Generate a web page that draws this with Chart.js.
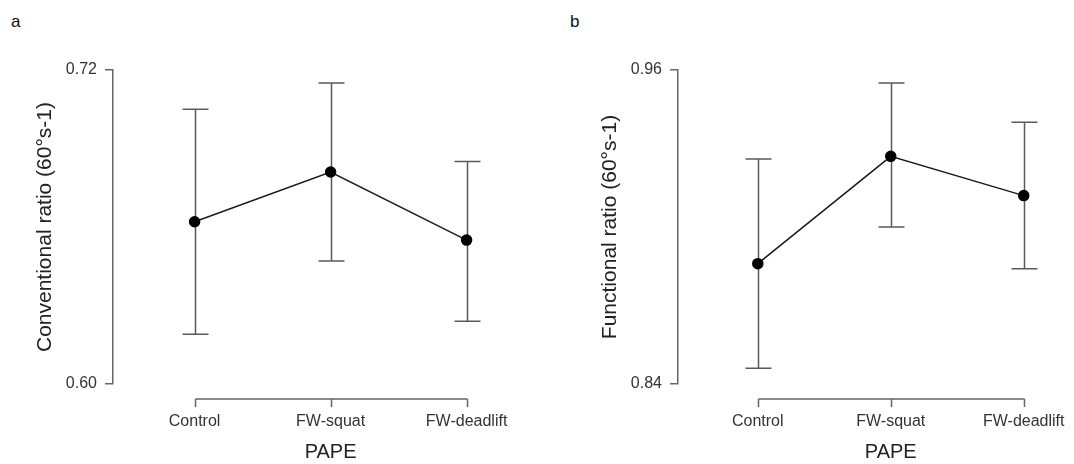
<!DOCTYPE html>
<html lang="en">
<head>
<meta charset="UTF-8">
<title>PAPE ratios</title>
<script src="https://cdn.jsdelivr.net/npm/chart.js"></script>
<style>
  html, body { margin: 0; padding: 0; background: #fff; overflow: hidden; }
  body { width: 1074px; height: 464px; position: relative; overflow: hidden; font-family: "Liberation Sans", Arial, sans-serif; }
  .panel { position: absolute; top: 0; height: 464px; }
  .tag { position: absolute; top: 13px; font-size: 17px; line-height: 17px; color: #111; }
</style>
</head>
<body>
<div class="tag" style="left:11px">a</div>
<div class="tag" style="left:570px">b</div>
<div class="panel" style="left:0; width:560px"><canvas id="chartA"></canvas></div>
<div class="panel" style="left:565px; width:545px"><canvas id="chartB"></canvas></div>

<script>
// categories on the x axis
const categories = ['Control', 'FW-squat', 'FW-deadlift'];

// panel a: conventional ratio, mean with lower/upper error bar ends
const convMean = [0.662, 0.681, 0.655];
const convLow = [0.619, 0.647, 0.624];
const convHigh = [0.705, 0.715, 0.685];
const convTicks = [0.60, 0.72];

// panel b: functional ratio
const funcMean = [0.886, 0.927, 0.912];
const funcLow = [0.846, 0.900, 0.884];
const funcHigh = [0.926, 0.955, 0.940];
const funcTicks = [0.84, 0.96];

const FONT = '"Liberation Sans", Arial, sans-serif';

// vertical error bars with caps, drawn under the line
const errorBars = {
  id: 'errorBars',
  beforeDatasetsDraw(chart, args, opts) {
    const { ctx, scales: { x, y } } = chart;
    ctx.save();
    ctx.strokeStyle = '#5a5a5a';
    ctx.lineWidth = 1.5;
    opts.low.forEach((lo, i) => {
      const px = Math.round(x.getPixelForValue(i + 1)) + 0.5;
      const yl = y.getPixelForValue(lo);
      const yh = y.getPixelForValue(opts.high[i]);
      ctx.beginPath();
      ctx.moveTo(px, yl); ctx.lineTo(px, yh);
      ctx.moveTo(px - 13, yl); ctx.lineTo(px + 13, yl);
      ctx.moveTo(px - 13, yh); ctx.lineTo(px + 13, yh);
      ctx.stroke();
    });
    ctx.restore();
  }
};

// R-style x axis: line only between first and last tick, set below the plot
const rAxis = {
  id: 'rAxis',
  afterDraw(chart) {
    const { ctx, chartArea, scales: { x } } = chart;
    const ticks = x.ticks.map(t => Math.round(x.getPixelForValue(t.value)) + 0.5);
    const y0 = chartArea.bottom + 15;
    ctx.save();
    ctx.strokeStyle = '#666';
    ctx.lineWidth = 1.5;
    ctx.beginPath();
    ctx.moveTo(ticks[0], y0);
    ctx.lineTo(ticks[ticks.length - 1], y0);
    ticks.forEach(px => { ctx.moveTo(px, y0); ctx.lineTo(px, y0 + 8); });
    ctx.stroke();
    ctx.restore();
  }
};

function makeChart(id, mean, low, high, yTicks, yTitle, padRight) {
  return new Chart(document.getElementById(id), {
    type: 'line',
    data: {
      datasets: [{
        data: mean.map((m, i) => ({ x: i + 1, y: m })),
        borderColor: '#1a1a1a',
        borderWidth: 1.5,
        pointRadius: 5,
        pointBackgroundColor: '#000',
        pointBorderColor: '#000',
        tension: 0
      }]
    },
    options: {
      responsive: true,
      maintainAspectRatio: false,
      animation: false,
      layout: { padding: { top: 70, right: padRight, bottom: 0, left: 0 } },
      plugins: {
        legend: { display: false },
        tooltip: { enabled: false },
        errorBars: { low: low, high: high }
      },
      scales: {
        x: {
          type: 'linear',
          min: 0.4,
          max: 3.6,
          afterBuildTicks: s => { s.ticks = categories.map((c, i) => ({ value: i + 1 })); },
          ticks: {
            callback: v => categories[v - 1],
            font: { family: FONT, size: 16 },
            color: '#333',
            padding: 5,
            maxRotation: 0,
            autoSkip: false
          },
          grid: { display: false, drawTicks: true, tickLength: 23 },
          border: { display: false },
          title: {
            display: true,
            text: 'PAPE',
            font: { family: FONT, size: 20 },
            color: '#222',
            padding: { top: 0, bottom: 0 }
          },
          afterFit: s => { s.height = 80; }
        },
        y: {
          type: 'linear',
          min: yTicks[0],
          max: yTicks[1],
          afterBuildTicks: s => { s.ticks = yTicks.map(v => ({ value: v })); },
          ticks: {
            callback: v => v.toFixed(2),
            font: { family: FONT, size: 16 },
            color: '#333',
            padding: 8
          },
          grid: { drawOnChartArea: false, tickLength: 8, color: '#666', lineWidth: 1.5 },
          border: { color: '#666', width: 1.5 },
          title: {
            display: true,
            text: yTitle,
            font: { family: FONT, size: 21 },
            color: '#222',
            padding: { top: 33, bottom: 0 }
          },
          afterFit: s => { s.width = 113; }
        }
      }
    },
    plugins: [errorBars, rAxis]
  });
}

makeChart('chartA', convMean, convLow, convHigh, convTicks, 'Conventional ratio (60°s-1)', 11.8);
makeChart('chartB', funcMean, funcLow, funcHigh, funcTicks, 'Functional ratio (60°s-1)', 4.8);
</script>
</body>
</html>
